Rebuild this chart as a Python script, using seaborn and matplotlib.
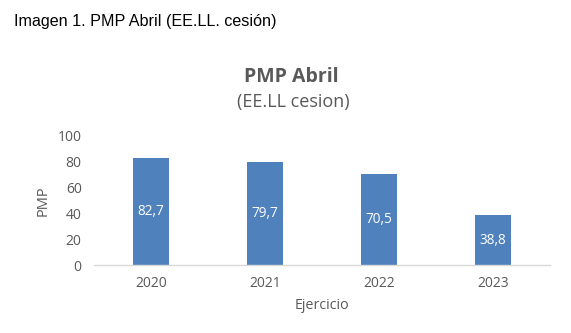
import matplotlib
matplotlib.use("Agg")
import matplotlib.pyplot as plt
import seaborn as sns
import pandas as pd

years = ["2020", "2021", "2022", "2023"]
pmp = [82.7, 79.7, 70.5, 38.8]
y_ticks = [0, 20, 40, 60, 80, 100]

sns.set_style("white")
plt.rcParams["font.family"] = ["Open Sans", "DejaVu Sans"]

text_gray = "#595959"
bar_blue = "#4F81BD"

df = pd.DataFrame({"Ejercicio": years, "PMP": pmp})

fig = plt.figure(figsize=(5.71, 3.33), dpi=100)
ax = fig.add_axes([0.165, 0.204, 0.798, 0.388])

sns.barplot(data=df, x="Ejercicio", y="PMP", color=bar_blue, width=0.32,
            saturation=1, ax=ax, edgecolor="none")

ax.set_ylim(0, 100)
ax.set_yticks(y_ticks)
ax.set_xlim(-0.5, len(years) - 0.5)
for s in ["top", "right", "left"]:
    ax.spines[s].set_visible(False)
ax.spines["bottom"].set_color("#D9D9D9")
ax.spines["bottom"].set_linewidth(1.0)
ax.tick_params(axis="both", length=0, labelsize=10, labelcolor=text_gray)
ax.tick_params(axis="y", pad=9)
ax.tick_params(axis="x", pad=8)

ax.set_xlabel("Ejercicio", fontsize=10.3, color=text_gray, labelpad=5)
ax.set_ylabel("PMP", fontsize=10.5, color=text_gray, labelpad=5)

for i, v in enumerate(pmp):
    ax.text(i, v / 2, f"{v:.1f}".replace(".", ","), ha="center", va="center",
            color="white", fontsize=9.8)

fig.text(0.511, 0.77, "PMP Abril", ha="center", va="center",
         fontsize=14, fontweight="bold", color=text_gray)
fig.text(0.514, 0.695, "(EE.LL cesion)", ha="center", va="center",
         fontsize=13, color=text_gray)

fig.text(0.024, 0.935, "Imagen 1. PMP Abril (EE.LL. cesión)", ha="left", va="center",
         fontsize=11.6, color="black",
         family=["Liberation Sans", "DejaVu Sans"])

fig.savefig("out.png", dpi=100, facecolor="white")
